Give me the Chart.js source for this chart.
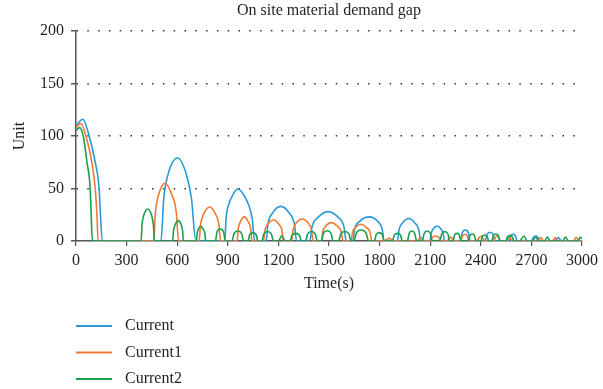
<!DOCTYPE html>
<html>
<head>
<meta charset="utf-8">
<script src="https://cdn.jsdelivr.net/npm/chart.js@4/dist/chart.umd.min.js"></script>
<style>
  html, body { margin: 0; padding: 0; background: #fff; }
</style>
</head>
<body>
<canvas id="gap" width="603" height="389"></canvas>
<script>
var chartTitle = 'On site material demand gap';
var seriesNames = ['Current', 'Current1', 'Current2'];
var seriesColors = ['#2a9ad6', '#f07a34', '#18a050'];
var xTicks = [0, 300, 600, 900, 1200, 1500, 1800, 2100, 2400, 2700, 3000];
var yTicks = [0, 50, 100, 150, 200];

// Current (blue)
var currentX = [0, 40, 78, 114, 137, 145, 156,
  504, 520, 545, 602, 655, 685, 710,
  882, 890, 906, 930, 958, 990, 1022, 1045, 1059,
  1127, 1138, 1165, 1214, 1265, 1295, 1308,
  1386, 1400, 1435, 1494, 1555, 1588, 1602,
  1641, 1652, 1680, 1739, 1790, 1815, 1827,
  1906, 1915, 1935, 1975, 2010, 2033, 2043,
  2098, 2105, 2118, 2141, 2164, 2177, 2184,
  2278, 2290, 2308, 2326, 2337,
  2425, 2437, 2455, 2473, 2484,
  2563, 2574, 2592, 2606, 2616,
  2700, 2712, 2725, 2738, 2749,
  2837, 2859, 2880, 3000];
var currentY = [110, 116, 100, 75, 50, 25, 0,
  0, 40, 63, 79, 63, 40, 0,
  0, 22, 35, 44, 49.5, 45, 35, 21, 0,
  0, 16, 26.5, 33, 26.5, 16, 0,
  0, 14, 22.5, 28, 22.5, 14, 0,
  0, 11.5, 18.5, 23, 18.5, 11.5, 0,
  0, 10.5, 17, 21.5, 17, 10.5, 0,
  0, 7, 11.5, 14.3, 11.5, 7, 0,
  0, 7.9, 10.5, 7.9, 0,
  0, 6.2, 8.3, 6.2, 0,
  0, 4.7, 6.3, 4.7, 0,
  0, 3.6, 4.8, 3.6, 0,
  0, 3.2, 0, 0];

// Current1 (orange)
var current1X = [0, 28, 59, 94, 114, 124, 131,
  461, 471, 490, 528, 568, 595, 608,
  729, 739, 758, 792, 826, 847, 857,
  955, 962, 975, 998, 1021, 1036, 1043,
  1112, 1120, 1137, 1171, 1203, 1221, 1229,
  1278, 1287, 1305, 1341, 1377, 1396, 1406,
  1455, 1463, 1480, 1514, 1550, 1573, 1582,
  1631, 1639, 1656, 1690, 1722, 1744, 1753,
  1827, 1857, 1886,
  2024, 2043, 2063,
  2102, 2112, 2131, 2150, 2161,
  2200, 2220, 2243,
  2282, 2292, 2308, 2320, 2329,
  2373, 2400, 2425,
  2473, 2496, 2520,
  2549, 2568, 2588,
  2739, 2755, 2773,
  2824, 2841, 2861,
  2949, 2965, 2984, 3000];
var current1Y = [108, 112, 100, 75, 50, 25, 0,
  0, 27, 44, 55, 44, 27, 0,
  0, 16, 26, 32.4, 26, 16, 0,
  0, 11.5, 18.5, 23, 18.5, 11.5, 0,
  0, 10, 16, 20, 16, 10, 0,
  0, 10.5, 17, 21, 17, 10.5, 0,
  0, 8.8, 14, 17.5, 14, 8.8, 0,
  0, 8, 12.8, 16, 12.8, 8, 0,
  0, 2.5, 0,
  0, 3.5, 0,
  0, 3.6, 4.8, 3.6, 0,
  0, 4.1, 0,
  0, 4.8, 6.4, 4.8, 0,
  0, 4.8, 0,
  0, 5, 0,
  0, 3.8, 0,
  0, 3.2, 0,
  0, 3.2, 0,
  0, 3.2, 0, 0];

// Current2 (green)
var current2X = [0, 20, 43, 65, 84, 90, 97,
  386, 391, 402, 425, 448, 459, 465,
  573, 578, 588, 606, 624, 632, 637,
  714, 718, 726, 739, 754, 764, 769,
  827, 836, 855, 875, 886,
  925, 937, 961, 982, 994,
  1020, 1030, 1049, 1068, 1078,
  1102, 1114, 1135, 1158, 1171,
  1200, 1220, 1240,
  1269, 1281, 1304, 1325, 1337,
  1361, 1374, 1396, 1418, 1431,
  1455, 1467, 1490, 1512, 1524,
  1557, 1570, 1594, 1618, 1631,
  1647, 1663, 1690, 1719, 1735,
  1769, 1780, 1798, 1816, 1827,
  1876, 1887, 1906, 1924, 1935,
  1965, 1975, 1990, 2008, 2020,
  2053, 2064, 2082, 2101, 2112,
  2157, 2168, 2186, 2205, 2216,
  2235, 2244, 2259, 2273, 2282,
  2327, 2335, 2349, 2363, 2371,
  2400, 2409, 2424, 2438, 2447,
  2465, 2474, 2490, 2505, 2514,
  2549, 2558, 2572, 2587, 2596,
  2631, 2655, 2675,
  2706, 2725, 2743,
  2778, 2794, 2812,
  2886, 2902, 2920,
  2975, 2990, 3000];
var current2Y = [105, 108, 100, 75, 50, 25, 0,
  0, 15, 24.5, 30.5, 24.5, 15, 0,
  0, 9.7, 15.5, 19.4, 15.5, 9.7, 0,
  0, 7, 11.2, 14, 11.2, 7, 0,
  0, 8.6, 11.4, 8.6, 0,
  0, 7.1, 9.5, 7.1, 0,
  0, 6, 8, 6, 0,
  0, 6.8, 9, 6.8, 0,
  0, 5, 0,
  0, 5.5, 7.3, 5.5, 0,
  0, 6.8, 9, 6.8, 0,
  0, 7.4, 9.8, 7.4, 0,
  0, 6.8, 9, 6.8, 0,
  0, 7.9, 10.5, 7.9, 0,
  0, 6, 8, 6, 0,
  0, 5.5, 7.3, 5.5, 0,
  0, 7.1, 9.5, 7.1, 0,
  0, 7.1, 9.5, 7.1, 0,
  0, 6.7, 8.9, 6.7, 0,
  0, 5.5, 7.3, 5.5, 0,
  0, 5, 6.7, 5, 0,
  0, 4.3, 5.7, 4.3, 0,
  0, 5, 6.7, 5, 0,
  0, 3.8, 5.1, 3.8, 0,
  0, 4.8, 0,
  0, 3.8, 0,
  0, 3.8, 0,
  0, 3.8, 0,
  0, 3.5, 2];

var serif = '"Liberation Serif", "Times New Roman", serif';
var ink = '#231f20';
var axisGray = '#555';

function toPoints(xs, ys) {
  return xs.map(function (x, i) { return { x: x, y: ys[i] }; });
}

function makeSet(i, xs, ys) {
  return {
    label: seriesNames[i],
    data: toPoints(xs, ys),
    borderColor: seriesColors[i],
    backgroundColor: seriesColors[i],
    order: 3 - i
  };
}

// title over the plot area and the stacked legend under the axis
var labelsPlugin = {
  id: 'labels',
  afterDraw: function (chart) {
    var c = chart.ctx, area = chart.chartArea;
    c.save();
    c.fillStyle = ink;
    c.font = '16px ' + serif;
    c.textAlign = 'center';
    c.textBaseline = 'middle';
    c.fillText(chartTitle, (area.left + area.right) / 2, 11);
    c.textAlign = 'left';
    chart.data.datasets.forEach(function (ds, i) {
      var y = 326 + i * 26.5;
      c.strokeStyle = ds.borderColor;
      c.lineWidth = 2;
      c.beginPath();
      c.moveTo(area.left, y);
      c.lineTo(area.left + 36, y);
      c.stroke();
      c.fillText(ds.label, area.left + 49, y);
    });
    c.restore();
  }
};

Chart.defaults.font.family = serif;
Chart.defaults.font.size = 16;
Chart.defaults.color = ink;

new Chart(document.getElementById('gap'), {
  type: 'line',
  data: {
    datasets: [
      makeSet(0, currentX, currentY),
      makeSet(1, current1X, current1Y),
      makeSet(2, current2X, current2Y)
    ]
  },
  options: {
    responsive: false,
    animation: false,
    layout: { padding: { top: 31, right: 17, bottom: 94, left: 0 } },
    elements: {
      point: { radius: 0 },
      line: { borderWidth: 1.6, cubicInterpolationMode: 'monotone' }
    },
    plugins: {
      legend: { display: false },
      title: { display: false },
      tooltip: { enabled: false }
    },
    scales: {
      x: {
        type: 'linear',
        min: xTicks[0],
        max: xTicks[xTicks.length - 1],
        ticks: {
          stepSize: xTicks[1] - xTicks[0],
          padding: 5,
          maxRotation: 0,
          autoSkip: false,
          callback: function (v) { return String(v); }
        },
        grid: { drawOnChartArea: false, tickLength: 5, color: axisGray, lineWidth: 1.2 },
        border: { color: axisGray, width: 1.5 },
        title: { display: true, text: 'Time(s)', padding: { top: 0, bottom: 2 } },
        afterFit: function (s) { s.height = 54; }
      },
      y: {
        min: yTicks[0],
        max: yTicks[yTicks.length - 1],
        ticks: { stepSize: yTicks[1] - yTicks[0], padding: 7 },
        grid: {
          color: function (ctx) { return ctx.tick && ctx.tick.value === 0 ? 'rgba(0,0,0,0)' : '#333'; },
          tickColor: axisGray,
          lineWidth: 1.5,
          tickLength: 5
        },
        border: { color: axisGray, width: 1.5, dash: [1.5, 9.3] },
        title: { display: true, text: 'Unit', padding: { top: 10, bottom: 0 } },
        afterFit: function (s) { s.width = 76; }
      }
    }
  },
  plugins: [labelsPlugin]
});
</script>
</body>
</html>
